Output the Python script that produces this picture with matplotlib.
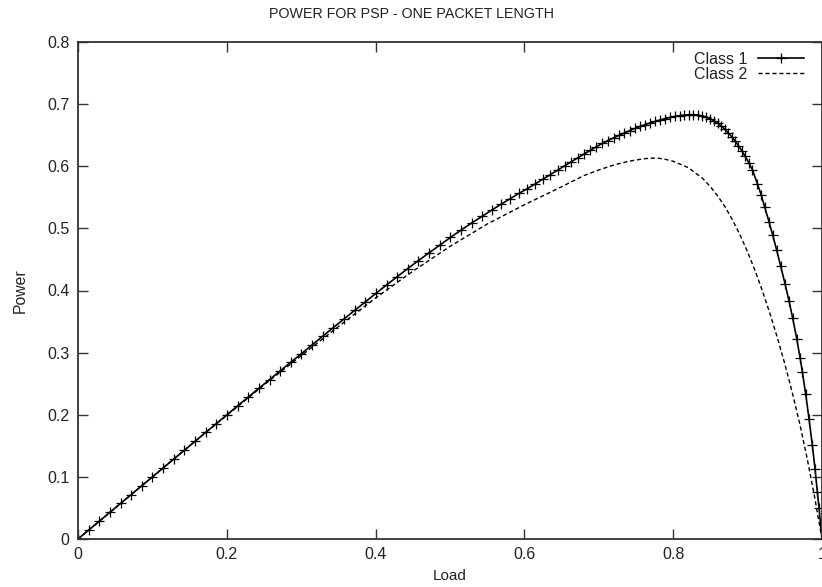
import matplotlib.pyplot as plt

# Class 1 (solid line with + markers)
load_c1 = [0.0000, 0.0143, 0.0286, 0.0429, 0.0572, 0.0715, 0.0858, 0.1001, 0.1144, 0.1287,
           0.1430, 0.1573, 0.1716, 0.1859, 0.2002, 0.2145, 0.2288, 0.2431, 0.2574, 0.2717,
           0.2860, 0.3003, 0.3146, 0.3289, 0.3432, 0.3575, 0.3718, 0.3861, 0.4004, 0.4147,
           0.4290, 0.4433, 0.4576, 0.4719, 0.4862, 0.5005, 0.5148, 0.5291, 0.5434, 0.5564,
           0.5689, 0.5809, 0.5925, 0.6037, 0.6145, 0.6249, 0.6349, 0.6446, 0.6540, 0.6631,
           0.6719, 0.6804, 0.6887, 0.6968, 0.7047, 0.7124, 0.7199, 0.7272, 0.7344, 0.7415,
           0.7485, 0.7554, 0.7622, 0.7690, 0.7757, 0.7824, 0.7890, 0.7956, 0.8021, 0.8085,
           0.8148, 0.8210, 0.8271, 0.8331, 0.8389, 0.8445, 0.8499, 0.8551, 0.8601, 0.8649,
           0.8696, 0.8742, 0.8787, 0.8832, 0.8877, 0.8922, 0.8968, 0.9015, 0.9064, 0.9131,
           0.9185, 0.9231, 0.9289, 0.9338, 0.9392, 0.9445, 0.9503, 0.9557, 0.9606, 0.9660,
           0.9705, 0.9736, 0.9781, 0.9826, 0.9870, 0.9906, 0.9937, 0.9960, 1.0000]
power_c1 = [0.0000, 0.0143, 0.0286, 0.0429, 0.0572, 0.0715, 0.0858, 0.1000, 0.1143, 0.1286,
            0.1429, 0.1572, 0.1715, 0.1858, 0.2000, 0.2142, 0.2284, 0.2425, 0.2566, 0.2706,
            0.2845, 0.2983, 0.3124, 0.3264, 0.3403, 0.3542, 0.3679, 0.3815, 0.3954, 0.4089,
            0.4222, 0.4354, 0.4482, 0.4607, 0.4729, 0.4854, 0.4972, 0.5087, 0.5195, 0.5297,
            0.5390, 0.5478, 0.5562, 0.5637, 0.5716, 0.5792, 0.5866, 0.5937, 0.6006, 0.6073,
            0.6137, 0.6198, 0.6258, 0.6315, 0.6368, 0.6414, 0.6457, 0.6498, 0.6536, 0.6573,
            0.6608, 0.6640, 0.6669, 0.6697, 0.6722, 0.6745, 0.6766, 0.6785, 0.6801, 0.6814,
            0.6824, 0.6830, 0.6830, 0.6824, 0.6810, 0.6790, 0.6764, 0.6730, 0.6690, 0.6645,
            0.6594, 0.6537, 0.6474, 0.6405, 0.6330, 0.6248, 0.6158, 0.6058, 0.5945, 0.5720,
            0.5530, 0.5340, 0.5100, 0.4890, 0.4645, 0.4390, 0.4110, 0.3830, 0.3555, 0.3225,
            0.2920, 0.2690, 0.2330, 0.1930, 0.1510, 0.1130, 0.0760, 0.0500, 0.0000]

# Class 2 (dashed line)
load_c2 = [0.00, 0.05, 0.10, 0.15, 0.20, 0.25, 0.30, 0.35, 0.40, 0.45,
           0.50, 0.55, 0.60, 0.65, 0.68, 0.70, 0.72, 0.74, 0.76, 0.77,
           0.78, 0.79, 0.80, 0.82, 0.84, 0.85, 0.86, 0.87, 0.88, 0.89,
           0.90, 0.91, 0.92, 0.93, 0.94, 0.95, 0.96, 0.97, 0.98, 0.99, 1.00]
power_c2 = [0.000, 0.050, 0.100, 0.150, 0.199, 0.248, 0.295, 0.342, 0.388, 0.431,
            0.471, 0.507, 0.538, 0.567, 0.585, 0.594, 0.602, 0.608, 0.612, 0.613,
            0.613, 0.611, 0.608, 0.598, 0.580, 0.567, 0.552, 0.534, 0.513, 0.489,
            0.462, 0.432, 0.399, 0.363, 0.324, 0.282, 0.236, 0.186, 0.130, 0.068, 0.000]

x_ticks = [0, 0.2, 0.4, 0.6, 0.8, 1]
x_ticklabels = ["0", "0.2", "0.4", "0.6", "0.8", "1"]
y_ticks = [0, 0.1, 0.2, 0.3, 0.4, 0.5, 0.6, 0.7, 0.8]
y_ticklabels = ["0", "0.1", "0.2", "0.3", "0.4", "0.5", "0.6", "0.7", "0.8"]

plt.rcParams['font.family'] = ['Liberation Sans', 'DejaVu Sans']
plt.rcParams['font.size'] = 11.5
text_color = '#222222'

fig = plt.figure(figsize=(8.22, 5.87), dpi=100)
ax = fig.add_axes([78 / 822, 1 - 539 / 587, 744 / 822, 497 / 587])

ax.plot(load_c1, power_c1, color='black', linewidth=1.2, marker='+',
        markersize=7, markeredgewidth=0.9, label="Class 1")
ax.plot(load_c2, power_c2, color='black', linewidth=1.0, linestyle=(0, (3, 2)),
        label="Class 2")

ax.set_xlim(0, 1)
ax.set_ylim(0, 0.8)
ax.set_xticks(x_ticks)
ax.set_xticklabels(x_ticklabels)
ax.set_yticks(y_ticks)
ax.set_yticklabels(y_ticklabels)
ax.tick_params(direction='in', length=7, width=1, top=True, right=True,
               colors='#333333', labelcolor=text_color, pad=6, labelsize=11.5)
for sp in ax.spines.values():
    sp.set_linewidth(1.3)
    sp.set_color('#333333')

ax.set_xlabel("Load", color=text_color, labelpad=5, fontsize=11)
ax.set_ylabel("Power", color=text_color, labelpad=14, fontsize=11.3)
fig.text(0.5, 1 - 14 / 587, "POWER FOR PSP - ONE PACKET LENGTH", ha='center', va='center',
         color=text_color, fontsize=10.3)

ax.legend(loc='upper right', bbox_to_anchor=(1 - 8 / 744, 1.0), frameon=False,
          markerfirst=False, numpoints=1, handlelength=2.9, handletextpad=0.7,
          labelspacing=0.0, borderaxespad=0.2, labelcolor=text_color)

fig.savefig("out.png", dpi=100)
